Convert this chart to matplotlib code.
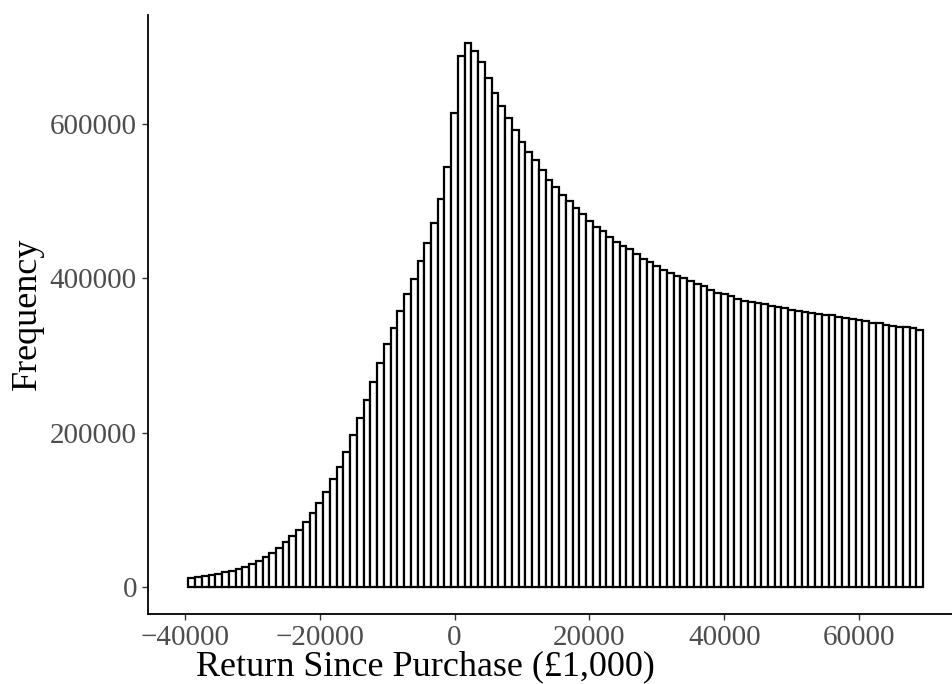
import numpy as np
import matplotlib
matplotlib.use("Agg")
import matplotlib.pyplot as plt

# bin centres (width 1000) and counts
bin_width = 1000
bin_start = -39000
counts = [
    10.8, 12.1, 13.4, 14.7, 16.4, 18.6, 20.9, 23.3, 26.0, 29.3, 33.2, 38.5,
    43.8, 50.5, 57.6, 65.2, 73.9, 84.6, 96.0, 108.9, 123.5, 139.2,
    155.9, 175.0, 196.6, 219.4, 242.0, 266.1, 289.9, 314.5,
    336.1, 358.1, 379.3, 399.6, 422.9, 445.4, 472.2, 502.8, 543.9, 613.9,
    688.2, 705.4, 695.1, 680.0, 660.1, 640.6,
    623.4, 607.4, 592.7, 576.3, 563.8, 553.0, 540.4, 527.9, 518.0, 507.6,
    499.9, 491.6, 483.8, 474.7, 466.6, 461.4, 454.0, 447.5, 442.3, 438.0,
    431.6, 425.5, 421.6, 416.4, 411.2, 407.3, 403.4, 400.0, 396.6, 392.7,
    389.7, 385.3, 381.4, 379.3, 376.7, 373.6, 370.7, 369.0, 367.7, 366.4, 363.8,
    362.9, 361.1, 359.4, 357.7, 356.8, 355.5, 354.2, 352.5, 352.1, 350.3, 348.6,
    346.9, 346.4, 344.7, 342.5, 342.1, 340.0, 338.3, 337.0, 336.6, 335.3, 333.5,
]
counts = np.array(counts) * 1000
centres = bin_start + bin_width * np.arange(len(counts))

xticks = [-40000, -20000, 0, 20000, 40000, 60000]
yticks = [0, 200000, 400000, 600000]

plt.rcParams['font.family'] = ['Liberation Serif', 'DejaVu Serif']

fig = plt.figure(figsize=(9.52, 6.84), dpi=100)
ax = fig.add_axes([148/952, 1 - 614/684, 1 - 148/952, (614 - 15)/684])

ax.bar(centres, counts, width=bin_width, facecolor='white', edgecolor='black',
       linewidth=1.6, align='center')

# ggplot style expansion
ax.set_xlim(-45490, 73800)
ax.set_ylim(-35300, 741300)
ax.set_xticks(xticks)
ax.set_yticks(yticks)
ax.set_xticklabels([f"{v}".replace('-', '\u2212') for v in xticks])
ax.set_yticklabels([str(v) for v in yticks])

for s in ['top', 'right']:
    ax.spines[s].set_visible(False)
for s in ['left', 'bottom']:
    ax.spines[s].set_linewidth(1.3)
ax.tick_params(axis='both', length=4, width=1.0, color='#333333',
               labelcolor='#4D4D4D', labelsize=21, pad=4)

fig.text(425/952, 1 - 667/684, 'Return Since Purchase (£1,000)', ha='center',
         va='center', fontsize=26)
fig.text(27/952, 1 - 314/684, 'Frequency', ha='center', va='center',
         rotation=90, fontsize=26)

fig.savefig('out.png', dpi=100)
